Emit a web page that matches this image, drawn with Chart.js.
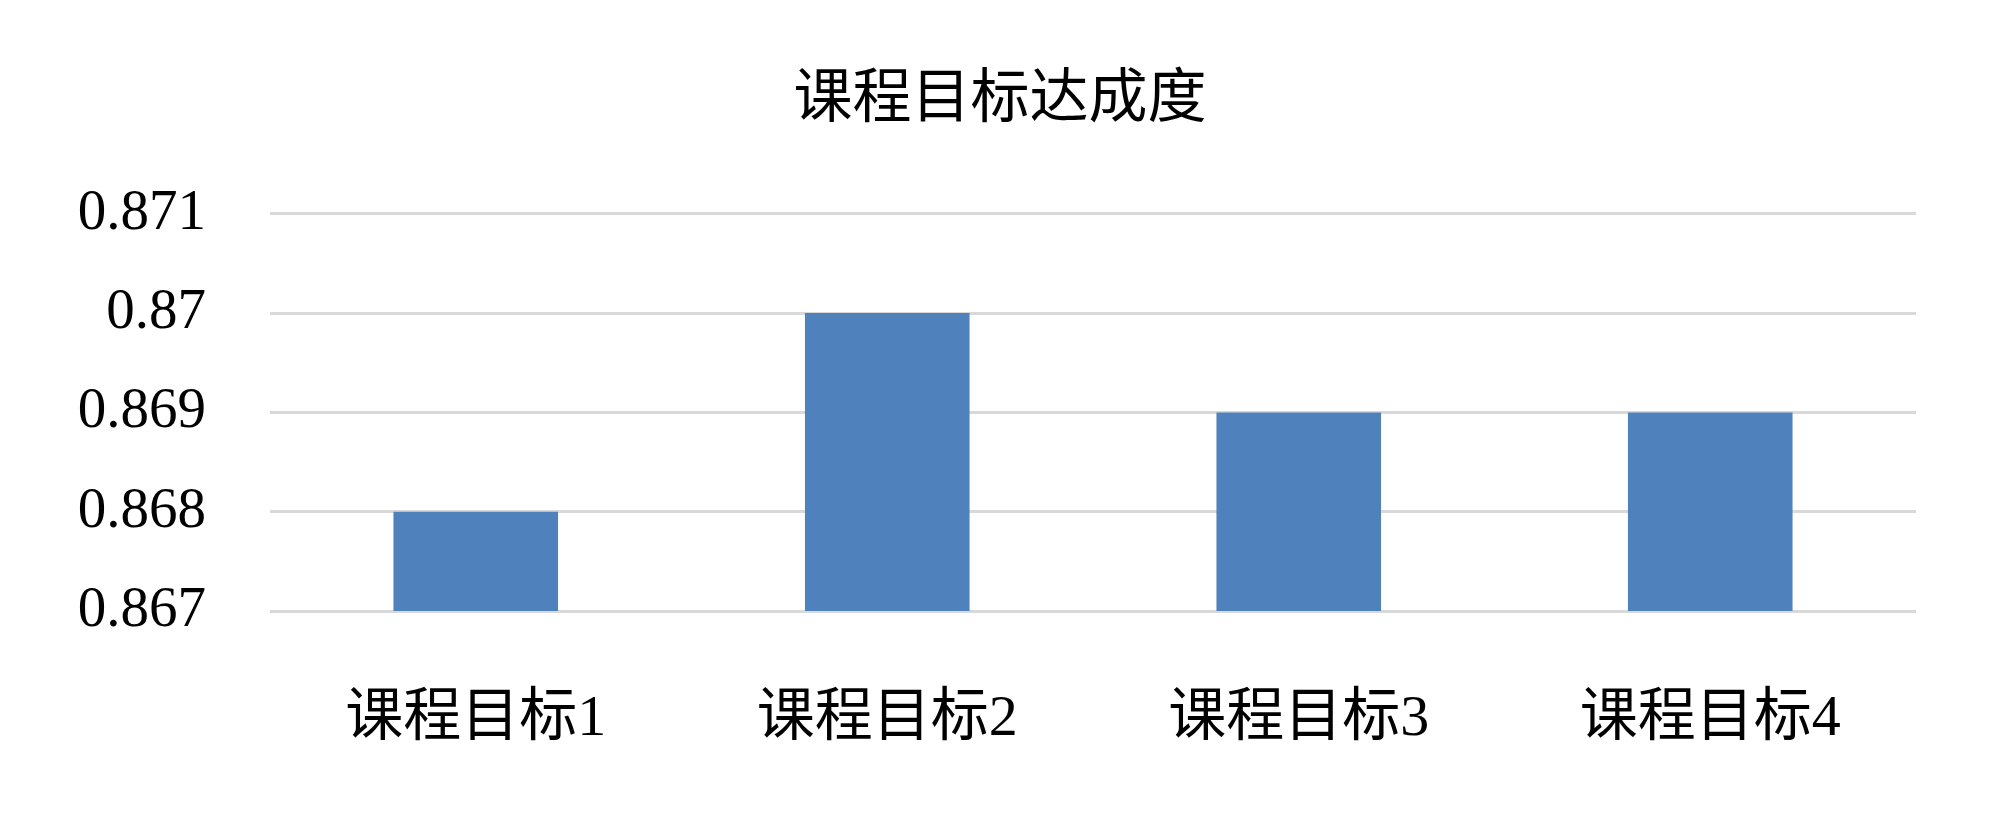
<!DOCTYPE html>
<html lang="zh">
<head>
  <meta charset="UTF-8">
  <title>课程目标达成度</title>
  <style>
    body { margin: 0; background: #fff; }
  </style>
</head>
<body>
  <canvas id="chart" width="2000" height="832"></canvas>

  <script src="https://cdn.jsdelivr.net/npm/chart.js"></script>
  <script>
    const categories = ['课程目标1', '课程目标2', '课程目标3', '课程目标4']
    const values = [0.868, 0.87, 0.869, 0.869]
    const yTicks = [0.867, 0.868, 0.869, 0.87, 0.871]

    const fontFamily = "'Liberation Serif', 'Noto Sans CJK SC', serif"

    // centre the title on the whole canvas, not on the padded box
    const centreTitle = {
      id: 'centreTitle',
      beforeDraw(chart) {
        if (chart.titleBlock) {
          chart.titleBlock.left = 0
          chart.titleBlock.right = chart.width
        }
      }
    }

    const chart = new Chart(document.getElementById('chart'), {
      type: 'bar',
      data: {
        labels: categories,
        datasets: [{
          data: values,
          backgroundColor: '#4f81bd',
          borderWidth: 0,
          barPercentage: 1,
          categoryPercentage: 0.4
        }]
      },
      options: {
        responsive: false,
        animation: false,
        layout: { padding: { left: 0, right: 84, top: 0, bottom: 0 } },
        plugins: {
          legend: { display: false },
          tooltip: { enabled: false },
          title: {
            display: true,
            text: '课程目标达成度',
            color: '#000',
            font: { family: fontFamily, size: 59, weight: 'normal', lineHeight: 1.2 },
            padding: { top: 66, bottom: 77 }
          }
        },
        scales: {
          x: {
            grid: { display: false },
            border: { display: false },
            ticks: {
              color: '#000',
              padding: 66,
              font: { family: fontFamily, size: 58 },
              maxRotation: 0
            },
            afterFit: (scale) => { scale.height = 221 }
          },
          y: {
            min: yTicks[0],
            max: yTicks[yTicks.length - 1],
            afterBuildTicks: (scale) => { scale.ticks = yTicks.map(v => ({ value: v })) },
            grid: { color: '#d9d9d9', lineWidth: 3, drawTicks: false },
            border: { display: false },
            ticks: {
              color: '#000',
              padding: 64,
              font: { family: fontFamily, size: 57 },
              callback: (v) => String(Number(v.toFixed(3)))
            },
            afterFit: (scale) => { scale.width = 270 }
          }
        }
      },
      plugins: [centreTitle]
    })
  </script>
</body>
</html>
